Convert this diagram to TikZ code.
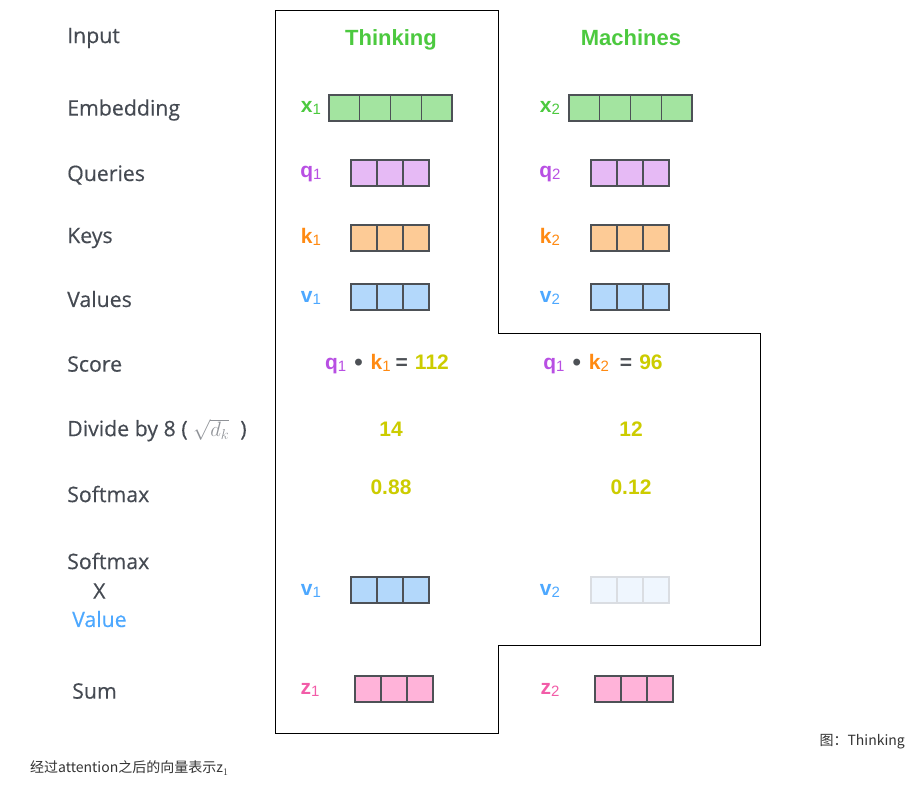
\documentclass[tikz,border=0pt]{standalone}
\usepackage{fontspec}
\setmainfont{Open Sans}
\newfontfamily\lblfont[FakeBold=0.35]{Open Sans}
\newfontfamily\headfont{Liberation Sans}
\newfontfamily\cjkfont{Noto Sans CJK SC}
\usepackage{xcolor}
\usetikzlibrary{positioning}

\definecolor{lblgray}{HTML}{454A52}
\definecolor{cellgray}{HTML}{4D5156}
\definecolor{wordgreen}{HTML}{4CC93F}
\definecolor{embfill}{HTML}{A3E4A0}
\definecolor{qpurple}{HTML}{B84FE3}
\definecolor{qfill}{HTML}{E6BAF5}
\definecolor{korange}{HTML}{FF8A12}
\definecolor{kfill}{HTML}{FDCB96}
\definecolor{vblue}{HTML}{4DA8FF}
\definecolor{vfill}{HTML}{B3D8FB}
\definecolor{vpale}{HTML}{EFF6FE}
\definecolor{vpaledraw}{HTML}{DADDE2}
\definecolor{numyellow}{HTML}{CCCC00}
\definecolor{zpink}{HTML}{F25CA8}
\definecolor{zfill}{HTML}{FFB3D9}
\definecolor{capgray}{HTML}{333333}

\newcommand{\lowsub}[1]{{\fontsize{15}{15}\selectfont\mdseries\raisebox{-2.5pt}{#1}}}
\newcommand{\dotsym}{{\fontsize{24}{24}\selectfont\raisebox{-1pt}{•}}}

\tikzset{
  rowlbl/.style  = {anchor=west, inner sep=0pt, text=lblgray,
                    font=\lblfont\fontsize{21.3}{24}\selectfont},
  veclbl/.style  = {inner sep=0pt, font=\headfont\bfseries\fontsize{21}{22}\selectfont},
  wordlbl/.style = {inner sep=0pt, anchor=base, text=wordgreen,
                    font=\headfont\bfseries\fontsize{22}{24}\selectfont},
  numlbl/.style  = {inner sep=0pt, text=numyellow,
                    font=\headfont\bfseries\fontsize{21}{24}\selectfont},
  cell/.style    = {draw=cellgray, line width=1.2pt},
  caplbl/.style  = {inner sep=0pt, text=capgray, font=\cjkfont\fontsize{14}{16}\selectfont},
}

% row of cells: left x, top y, number of cells, cell width, fill
\newcommand{\cellrow}[5]{%
  \foreach \i in {1,...,#3}
    \draw[cell, #5] ({#1+(\i-1)*#4},#2) rectangle ++(#4,26);
}

\begin{document}
\begin{tikzpicture}[x=1pt, y=-1pt]
  \useasboundingbox (0,0) rectangle (921,785);

  % outline round the two words
  \draw[line width=1pt] (275,10) -- (498,10) -- (498,333) -- (760,333)
    -- (760,645) -- (498,645) -- (498,733) -- (275,733) -- cycle;

  % row titles
  \node[rowlbl] (input)  at (67,38)  {Input};
  \node[rowlbl] (embed)  at (67,110) {Embedding};
  \node[rowlbl] (query)  at (67,175) {Queries};
  \node[rowlbl] (key)    at (67,238) {Keys};
  \node[rowlbl] (value)  at (67,299) {Values};
  \node[rowlbl] (score)  at (67,364) {Score};
  \node[rowlbl] (divide) at (67,430)
    {Divide by 8 ( {\color{lblgray!60}$\sqrt{d_k}$} \ )};
  \node[rowlbl] (soft)   at (67,494) {Softmax};
  \node[rowlbl] (softa)  at (67,561) {Softmax};
  \node[rowlbl] (softb)  at (93,591) {X};
  \node[rowlbl, text=vblue] (softc) at (72,619) {Value};
  \node[rowlbl] (sum)    at (72,691) {Sum};

  % words
  \node[wordlbl] (thinking) at (391,45) {Thinking};
  \node[wordlbl] (machines) at (631,45) {Machines};

  % vectors of the first word
  \node[veclbl, text=wordgreen] (xa) at (311,108) {x\lowsub{1}};
  \cellrow{329}{95}{4}{30.75}{fill=embfill}
  \node[veclbl, text=qpurple] (qa) at (311,174) {q\lowsub{1}};
  \cellrow{351}{160}{3}{26}{fill=qfill}
  \node[veclbl, text=korange] (ka) at (311,237) {k\lowsub{1}};
  \cellrow{351}{225}{3}{26}{fill=kfill}
  \node[veclbl, text=vblue] (va) at (311,298) {v\lowsub{1}};
  \cellrow{351}{284}{3}{26}{fill=vfill}

  % vectors of the second word
  \node[veclbl, text=wordgreen] (xb) at (550,108) {x\lowsub{2}};
  \cellrow{569}{95}{4}{30.75}{fill=embfill}
  \node[veclbl, text=qpurple] (qb) at (550,174) {q\lowsub{2}};
  \cellrow{591}{160}{3}{26}{fill=qfill}
  \node[veclbl, text=korange] (kb) at (550,237) {k\lowsub{2}};
  \cellrow{591}{225}{3}{26}{fill=kfill}
  \node[veclbl, text=vblue] (vb) at (550,298) {v\lowsub{2}};
  \cellrow{591}{284}{3}{26}{fill=vfill}

  % scores
  \node[veclbl] (scorea) at (387,364)
    {\color{qpurple}q\lowsub{1}\hspace{8pt}\color{cellgray}\dotsym\hspace{8pt}%
     \color{korange}k\lowsub{1}\hspace{5pt}\color{cellgray}=\hspace{7pt}\color{numyellow}112};
  \node[veclbl] (scoreb) at (603,364)
    {\color{qpurple}q\lowsub{1}\hspace{8pt}\color{cellgray}\dotsym\hspace{8pt}%
     \color{korange}k\lowsub{2}\hspace{11pt}\color{cellgray}=\hspace{7pt}\color{numyellow}96};

  \node[numlbl] (diva)  at (391,429) {14};
  \node[numlbl] (divb)  at (631,429) {12};
  \node[numlbl] (softa) at (391,487) {0.88};
  \node[numlbl] (softb) at (631,487) {0.12};

  % weighted values
  \node[veclbl, text=vblue] (wva) at (311,591) {v\lowsub{1}};
  \cellrow{351}{577}{3}{26}{fill=vfill}
  \node[veclbl, text=vblue] (wvb) at (550,591) {v\lowsub{2}};
  \cellrow{591}{577}{3}{26}{fill=vpale, draw=vpaledraw}

  % sums
  \node[veclbl, text=zpink] (za) at (310,690) {z\lowsub{1}};
  \cellrow{355}{676}{3}{26}{fill=zfill}
  \node[veclbl, text=zpink] (zb) at (550,690) {z\lowsub{2}};
  \cellrow{595}{676}{3}{26}{fill=zfill}

  % captions
  \node[caplbl, anchor=east] (figcap) at (905,742) {图：Thinking};
  \node[caplbl, anchor=west] (notecap) at (30,768)
    {经过attention之后的向量表示z$_1$};
\end{tikzpicture}
\end{document}
